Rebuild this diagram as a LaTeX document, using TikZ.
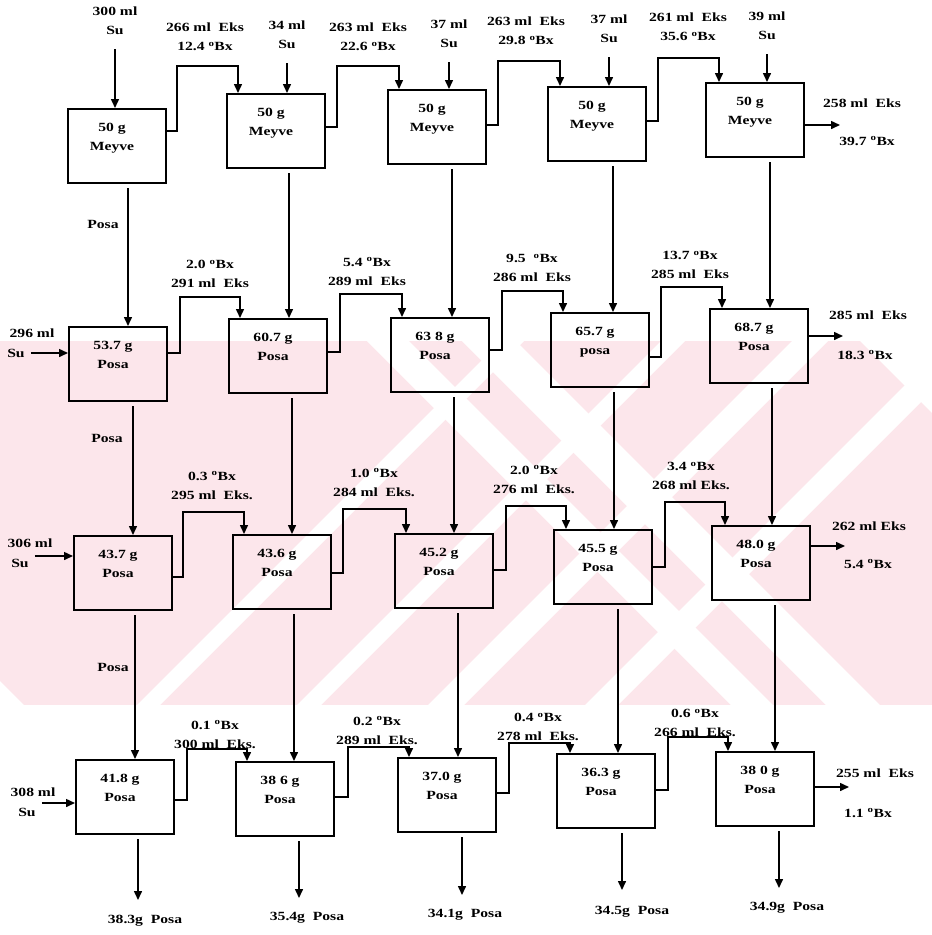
\documentclass[tikz,border=0pt]{standalone}
\usepackage{fontspec}
\setmainfont{Liberation Serif}[FakeStretch=1.25]
\usetikzlibrary{arrows.meta}
\definecolor{wmpink}{RGB}{252,230,235}
\newcommand{\Bx}{\textsuperscript{o}Bx}

\begin{document}
\begin{tikzpicture}[
  x=1pt, y=-1pt,
  font=\fontsize{12.5}{19}\selectfont\bfseries,
  box/.style={draw, line width=2pt, minimum width=98pt, minimum height=74pt, inner sep=0pt},
  inbox/.style={anchor=north, align=center, yshift=-13pt, xshift=-5pt, inner sep=2pt},
  lbl/.style={align=center, inner sep=1pt},
  arr/.style={-{Triangle[length=9pt,width=8pt]}, line width=1.5pt},
  feed/.style={arr, shorten <=13pt},
  fall/.style={arr, shorten <=4pt},
  side/.style={arr, shorten <=5pt}
]
\useasboundingbox (0,0) rectangle (932,935);

% background stamp
\begin{scope}
\clip (0,341) rectangle (932,705);
\fill[wmpink] (0,341) rectangle (932,705);
\fill[white] (137,705) -- (160,705) -- (524,341) -- (501,341) -- cycle;
\fill[white] (297,705) -- (321,705) -- (685,341) -- (661,341) -- cycle;
\fill[white] (428,705) -- (464,705) -- (828,341) -- (792,341) -- cycle;
\fill[white] (585,705) -- (618,705) -- (982,341) -- (949,341) -- cycle;
\fill[white] (731,705) -- (773,705) -- (409,341) -- (367,341) -- cycle;
\fill[white] (826,705) -- (880,705) -- (516,341) -- (462,341) -- cycle;
\fill[white] (0,705) -- (24,705) -- (0,681) -- cycle;
\fill[white] (860,341) -- (932,341) -- (932,413) -- cycle;
\end{scope}

% extractors
\node[box, label={[inbox]north:50 g\\Meyve}] (b11) at (117,146) {};
\node[box, label={[inbox]north:50 g\\Meyve}] (b12) at (276,131) {};
\node[box, label={[inbox]north:50 g\\Meyve}] (b13) at (437,127) {};
\node[box, label={[inbox]north:50 g\\Meyve}] (b14) at (597,124) {};
\node[box, label={[inbox]north:50 g\\Meyve}] (b15) at (755,120) {};

\node[box, label={[inbox]north:53.7 g\\Posa}] (b21) at (118,364) {};
\node[box, label={[inbox]north:60.7 g\\Posa}] (b22) at (278,356) {};
\node[box, label={[inbox]north:63 8 g\\Posa}] (b23) at (440,355) {};
\node[box, label={[inbox]north:65.7 g\\posa}] (b24) at (600,350) {};
\node[box, label={[inbox]north:68.7 g\\Posa}] (b25) at (759,346) {};

\node[box, label={[inbox]north:43.7 g\\Posa}] (b31) at (123,573) {};
\node[box, label={[inbox]north:43.6 g\\Posa}] (b32) at (282,572) {};
\node[box, label={[inbox]north:45.2 g\\Posa}] (b33) at (444,571) {};
\node[box, label={[inbox]north:45.5 g\\Posa}] (b34) at (603,567) {};
\node[box, label={[inbox]north:48.0 g\\Posa}] (b35) at (761,563) {};

\node[box, label={[inbox]north:41.8 g\\Posa}] (b41) at (125,797) {};
\node[box, label={[inbox]north:38 6 g\\Posa}] (b42) at (285,799) {};
\node[box, label={[inbox]north:37.0 g\\Posa}] (b43) at (447,795) {};
\node[box, label={[inbox]north:36.3 g\\Posa}] (b44) at (606,791) {};
\node[box, label={[inbox]north:38 0 g\\Posa}] (b45) at (765,789) {};

% water to the first row
\node[lbl] (w1) at (115,21) {300 ml\\Su};
\node[lbl] (w2) at (287,35) {34 ml\\Su};
\node[lbl] (w3) at (449,34) {37 ml\\Su};
\node[lbl] (w4) at (609,29) {37 ml\\Su};
\node[lbl] (w5) at (767,26) {39 ml\\Su};
\draw[feed] (w1.south) -- (w1.south |- b11.north);
\draw[feed] (w2.south) -- (w2.south |- b12.north);
\draw[feed] (w3.south) -- (w3.south |- b13.north);
\draw[feed] (w4.south) -- (w4.south |- b14.north);
\draw[feed] (w5.south) -- (w5.south |- b15.north);

% extract labels
\node[lbl] (e1) at (205,37) {266 ml~~Eks\\12.4 \Bx};
\node[lbl] (e2) at (368,37) {263 ml~~Eks\\22.6 \Bx};
\node[lbl] (e3) at (526,31) {263 ml~~Eks\\29.8 \Bx};
\node[lbl] (e4) at (688,27) {261 ml~~Eks\\35.6 \Bx};
\node[lbl] (f1) at (210,274) {2.0 \Bx\\291 ml~~Eks};
\node[lbl] (f2) at (367,271.5) {5.4 \Bx\\289 ml~~Eks};
\node[lbl] (f3) at (532,268) {9.5~~\Bx\\286 ml~~Eks};
\node[lbl] (f4) at (690,265) {13.7 \Bx\\285 ml~~Eks};
\node[lbl] (g1) at (212,485.5) {0.3 \Bx\\295 ml~~Eks.};
\node[lbl] (g2) at (374,482.5) {1.0 \Bx\\284 ml~~Eks.};
\node[lbl] (g3) at (534,479.5) {2.0 \Bx\\276 ml~~Eks.};
\node[lbl] (g4) at (691,476) {3.4 \Bx\\268 ml Eks.};
\node[lbl] (h1) at (215,734.5) {0.1 \Bx\\300 ml~~Eks.};
\node[lbl] (h2) at (377,730.5) {0.2 \Bx\\289 ml~~Eks.};
\node[lbl] (h3) at (538,727) {0.4 \Bx\\278 ml~~Eks.};
\node[lbl] (h4) at (695,723) {0.6 \Bx\\266 ml~~Eks.};

% extract between stages
\draw[arr] (b11.east |- 0,131) -| (177,66) -| (b12.north -| 238,0);
\draw[arr] (b12.east |- 0,127) -| (337,66) -| (b13.north -| 399,0);
\draw[arr] (b13.east |- 0,125) -| (498,61) -| (b14.north -| 560,0);
\draw[arr] (b14.east |- 0,121) -| (658,58) -| (b15.north -| 719,0);
\draw[arr] (b21.east |- 0,353) -| (180,297) -| (b22.north -| 240,0);
\draw[arr] (b22.east |- 0,352) -| (340,294) -| (b23.north -| 402,0);
\draw[arr] (b23.east |- 0,350) -| (502,291) -| (b24.north -| 563,0);
\draw[arr] (b24.east |- 0,357) -| (661,287) -| (b25.north -| 722,0);
\draw[arr] (b31.east |- 0,577) -| (183,512) -| (b32.north -| 244,0);
\draw[arr] (b32.east |- 0,573) -| (343,509) -| (b33.north -| 406,0);
\draw[arr] (b33.east |- 0,570) -| (506,506) -| (b34.north -| 566,0);
\draw[arr] (b34.east |- 0,567) -| (665,502) -| (b35.north -| 725,0);
\draw[arr] (b41.east |- 0,800) -| (187,749) -| (b42.north -| 247,0);
\draw[arr] (b42.east |- 0,797) -| (348,747) -| (b43.north -| 409,0);
\draw[arr] (b43.east |- 0,793) -| (509,743) -| (b44.north -| 570,0);
\draw[arr] (b44.east |- 0,790) -| (668,737) -| (b45.north -| 728,0);

% pulp down the columns
\node[lbl] (p1) at (103,224) {Posa};
\node[lbl] (p2) at (107,438) {Posa};
\node[lbl] (p3) at (113,667) {Posa};
\draw[fall] (b11.south -| 128,0) -- (b21.north -| 128,0);
\draw[fall] (b12.south -| 289,0) -- (b22.north -| 289,0);
\draw[fall] (b13.south -| 452,0) -- (b23.north -| 452,0);
\draw[fall] (b14.south -| 613,0) -- (b24.north -| 613,0);
\draw[fall] (b15.south -| 770,0) -- (b25.north -| 770,0);
\draw[fall] (b21.south -| 133,0) -- (b31.north -| 133,0);
\draw[fall] (b22.south -| 292,0) -- (b32.north -| 292,0);
\draw[fall] (b23.south -| 454,0) -- (b33.north -| 454,0);
\draw[fall] (b24.south -| 614,0) -- (b34.north -| 614,0);
\draw[fall] (b25.south -| 772,0) -- (b35.north -| 772,0);
\draw[fall] (b31.south -| 135,0) -- (b41.north -| 135,0);
\draw[fall] (b32.south -| 294,0) -- (b42.north -| 294,0);
\draw[fall] (b33.south -| 458,0) -- (b43.north -| 458,0);
\draw[fall] (b34.south -| 618,0) -- (b44.north -| 618,0);
\draw[fall] (b35.south -| 775,0) -- (b45.north -| 775,0);

% fresh water from the left
\node[lbl] (s2a) at (32,333) {296 ml};
\node[lbl] (s2b) at (16,353) {Su};
\node[lbl] (s3a) at (30,543) {306 ml};
\node[lbl] (s3b) at (20,563) {Su};
\node[lbl] (s4a) at (33,792) {308 ml};
\node[lbl] (s4b) at (27,812) {Su};
\draw[side] (s2b.east) -- (s2b.east -| b21.west);
\draw[side] (s3b.east |- 0,556) -- (b31.west |- 0,556);
\draw[side] (s4b.east |- 0,803) -- (b41.west |- 0,803);

% products on the right
\node[lbl] (r1a) at (862,103) {258 ml~~Eks};
\node[lbl] (r1b) at (867,141) {39.7 \Bx};
\node[lbl] (r2a) at (868,315) {285 ml~~Eks};
\node[lbl] (r2b) at (865,355) {18.3 \Bx};
\node[lbl] (r3a) at (869,526) {262 ml Eks};
\node[lbl] (r3b) at (868,564) {5.4 \Bx};
\node[lbl] (r4a) at (875,773) {255 ml~~Eks};
\node[lbl] (r4b) at (868,813) {1.1 \Bx};
\draw[arr] (b15.east |- 0,125) -- ++(35,0);
\draw[arr] (b25.east |- 0,336) -- ++(34,0);
\draw[arr] (b35.east |- 0,546) -- ++(34,0);
\draw[arr] (b45.east |- 0,787) -- ++(34,0);

% spent pulp
\node[lbl] (q1) at (145,921) {38.3g~~Posa};
\node[lbl] (q2) at (307,918) {35.4g~~Posa};
\node[lbl] (q3) at (465,915) {34.1g~~Posa};
\node[lbl] (q4) at (632,912) {34.5g~~Posa};
\node[lbl] (q5) at (787,908) {34.9g~~Posa};
\draw[fall] (b41.south -| 138,0) -- ++(0,65);
\draw[fall] (b42.south -| 299,0) -- ++(0,61);
\draw[fall] (b43.south -| 462,0) -- ++(0,62);
\draw[fall] (b44.south -| 622,0) -- ++(0,61);
\draw[fall] (b45.south -| 779,0) -- ++(0,61);
\end{tikzpicture}
\end{document}
